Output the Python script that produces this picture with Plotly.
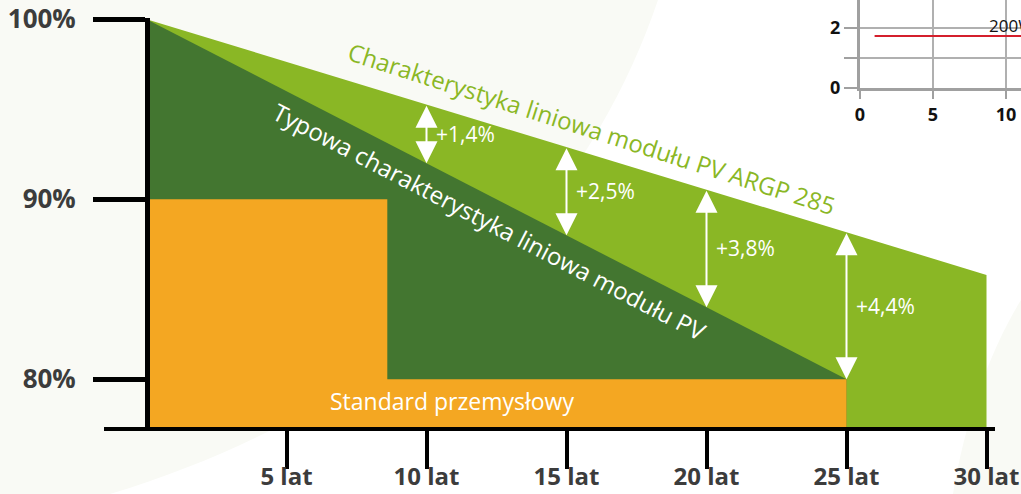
import plotly.graph_objects as go
import numpy as np

W, H = 1021, 494

# ---------------- data ----------------
years_argp = [0, 25, 30]
argp_values = [100.0, 88.2, 85.8]          # "Charakterystyka liniowa modułu PV ARGP 285"
years_typical = [0, 25]
typical_values = [100.0, 80.0]             # "Typowa charakterystyka liniowa modułu PV"
years_standard = [0, 8.6, 25]
standard_values = [90.0, 80.0, 80.0]       # "Standard przemysłowy" (step)
gain_years = [10, 15, 20, 25]
gain_labels = ["+1,4%", "+2,5%", "+3,8%", "+4,4%"]
x_ticks = [5, 10, 15, 20, 25, 30]
x_tick_labels = ["5 lat", "10 lat", "15 lat", "20 lat", "25 lat", "30 lat"]
y_ticks = [80, 90, 100]
y_tick_labels = ["80%", "90%", "100%"]

# inset (cropped chart in the corner)
inset_x = [1.0, 11.5]
inset_y = [1.73, 1.73]
inset_label = "200W/m²"
inset_x_ticks = [0, 5, 10]
inset_y_ticks = [0, 1, 2]
inset_y_tick_labels = ["0", "", "2"]

# ---------------- styling ----------------
LIGHT = "#8AB725"
DARK = "#437630"
ORANGE = "#F4A722"
OFFWHITE = "#F9FAF5"
FONT = "Open Sans"

X0_PX, PX_PER_YEAR = 146.5, 28.0
def year_at(px):
    return (px - X0_PX) / PX_PER_YEAR
def val_at(py):
    return 100 - (py - 19.3) / 18.0
def paper(x, y):
    return x / W, 1 - y / H

fig = go.Figure()

fig.add_trace(go.Scatter(x=years_argp, y=argp_values, mode="lines", fill="tozeroy",
                         fillcolor=LIGHT, line=dict(width=0, color=LIGHT), hoverinfo="skip"))
fig.add_trace(go.Scatter(x=years_typical, y=typical_values, mode="lines", fill="tozeroy",
                         fillcolor=DARK, line=dict(width=0, color=DARK), hoverinfo="skip"))
fig.add_trace(go.Scatter(x=years_standard, y=standard_values, mode="lines", fill="tozeroy",
                         line_shape="hv", fillcolor=ORANGE, line=dict(width=0, color=ORANGE),
                         hoverinfo="skip"))

# inset
fig.add_trace(go.Scatter(x=inset_x, y=inset_y, mode="lines", line=dict(color="#D41F2C", width=2),
                         xaxis="x2", yaxis="y2", hoverinfo="skip"))

annotations = []
for yr, lab in zip(gain_years, gain_labels):
    top = float(np.interp(yr, years_argp, argp_values))
    bot = float(np.interp(yr, years_typical, typical_values))
    annotations.append(dict(x=yr, y=bot, ax=yr, ay=top, xref="x", yref="y", axref="x", ayref="y",
                            showarrow=True, arrowside="end+start", arrowhead=2, startarrowhead=2,
                            arrowsize=2.2, startarrowsize=2.2, arrowwidth=2, arrowcolor="white",
                            text=""))
    annotations.append(dict(x=yr, y=(top + bot) / 2, xref="x", yref="y", text=lab, showarrow=False,
                            xanchor="left", yanchor="middle", xshift=7,
                            font=dict(family=FONT, size=21, color="white")))

annotations.append(dict(x=year_at(592), y=val_at(128), xref="x", yref="y",
                        text="Charakterystyka liniowa modułu PV ARGP 285", showarrow=False,
                        textangle=17.8, font=dict(family=FONT, size=24, color=LIGHT)))
annotations.append(dict(x=year_at(490), y=val_at(221), xref="x", yref="y",
                        text="Typowa charakterystyka liniowa modułu PV", showarrow=False,
                        textangle=27.5, font=dict(family=FONT, size=24, color="white")))
annotations.append(dict(x=year_at(452), y=val_at(401), xref="x", yref="y",
                        text="Standard przemysłowy", showarrow=False,
                        font=dict(family=FONT, size=23, color="white")))
annotations.append(dict(x=8.7, y=2.1, xref="x2", yref="y2", text=inset_label, showarrow=False,
                        xanchor="left", yanchor="middle",
                        font=dict(family=FONT, size=17, color="#111")))

def P(x, y):
    a, b = paper(x, y)
    return f"{a:.5f},{b:.5f}"

shapes = [
    dict(type="path", xref="paper", yref="paper", layer="below", line=dict(width=0),
         fillcolor=OFFWHITE,
         path=f"M {P(0,0)} L {P(658,0)} C {P(590,200)} {P(420,400)} {P(110,494)} L {P(0,494)} Z"),
    dict(type="path", xref="paper", yref="paper", layer="below", line=dict(width=0),
         fillcolor=OFFWHITE,
         path=f"M {P(953,494)} C {P(965,420)} {P(990,350)} {P(1021,300)} L {P(1021,494)} Z"),
]

tickfont_main = dict(family=FONT, size=26, color="#3C3C3C", weight=700)

fig.update_layout(
    width=W, height=H, autosize=False,
    margin=dict(l=0, r=0, t=0, b=0, pad=0),
    paper_bgcolor="white", plot_bgcolor="rgba(0,0,0,0)",
    showlegend=False,
    annotations=annotations, shapes=shapes,
    xaxis=dict(domain=[104 / W, 995 / W], range=[year_at(104), year_at(995)],
               tickmode="array", tickvals=x_ticks, ticktext=x_tick_labels,
               ticks="outside", ticklen=38, tickwidth=4, tickcolor="black",
               showline=True, linecolor="black", linewidth=4,
               showgrid=False, zeroline=False,
               tickfont=dict(family=FONT, size=24, color="#3C3C3C", weight=700),
               anchor="y", automargin=False, fixedrange=True,
               ticklabelstandoff=-13, ticklabeloverflow="allow"),
    yaxis=dict(domain=[(H - 427) / H, (H - 18) / H], range=[val_at(427), val_at(18)],
               tickmode="array", tickvals=y_ticks, ticktext=y_tick_labels,
               ticks="outside", ticklen=52, tickwidth=5, tickcolor="black",
               showline=True, linecolor="black", linewidth=5,
               showgrid=False, zeroline=False, tickfont=tickfont_main,
               anchor="free", position=147 / W, automargin=False, fixedrange=True,
               ticklabelstandoff=12),
    xaxis2=dict(domain=[860 / W, 1.0], range=[0, (W - 860) / 14.6], anchor="y2",
                tickmode="array", tickvals=inset_x_ticks,
                ticks="outside", ticklen=8, tickwidth=1.5, tickcolor="#A0A0A0",
                showline=True, linecolor="#A0A0A0", linewidth=3,
                showgrid=True, gridcolor="#B0B0B0", gridwidth=1.5, zeroline=False,
                tickfont=dict(family=FONT, size=18, color="#111", weight=700),
                automargin=False, fixedrange=True),
    yaxis2=dict(domain=[(H - 88) / H, 1.0], range=[0, 88 / 30], anchor="x2",
                tickmode="array", tickvals=inset_y_ticks, ticktext=inset_y_tick_labels,
                ticks="outside", ticklen=13, tickwidth=1.5, tickcolor="#A0A0A0",
                showline=True, linecolor="#A0A0A0", linewidth=3,
                showgrid=True, gridcolor="#B0B0B0", gridwidth=1.5, zeroline=False,
                tickfont=dict(family=FONT, size=18, color="#111", weight=700),
                automargin=False, fixedrange=True),
)

fig.write_html("out.html", config={"displayModeBar": False},
               post_script="document.body.style.margin='0';document.body.style.overflow='hidden';")
